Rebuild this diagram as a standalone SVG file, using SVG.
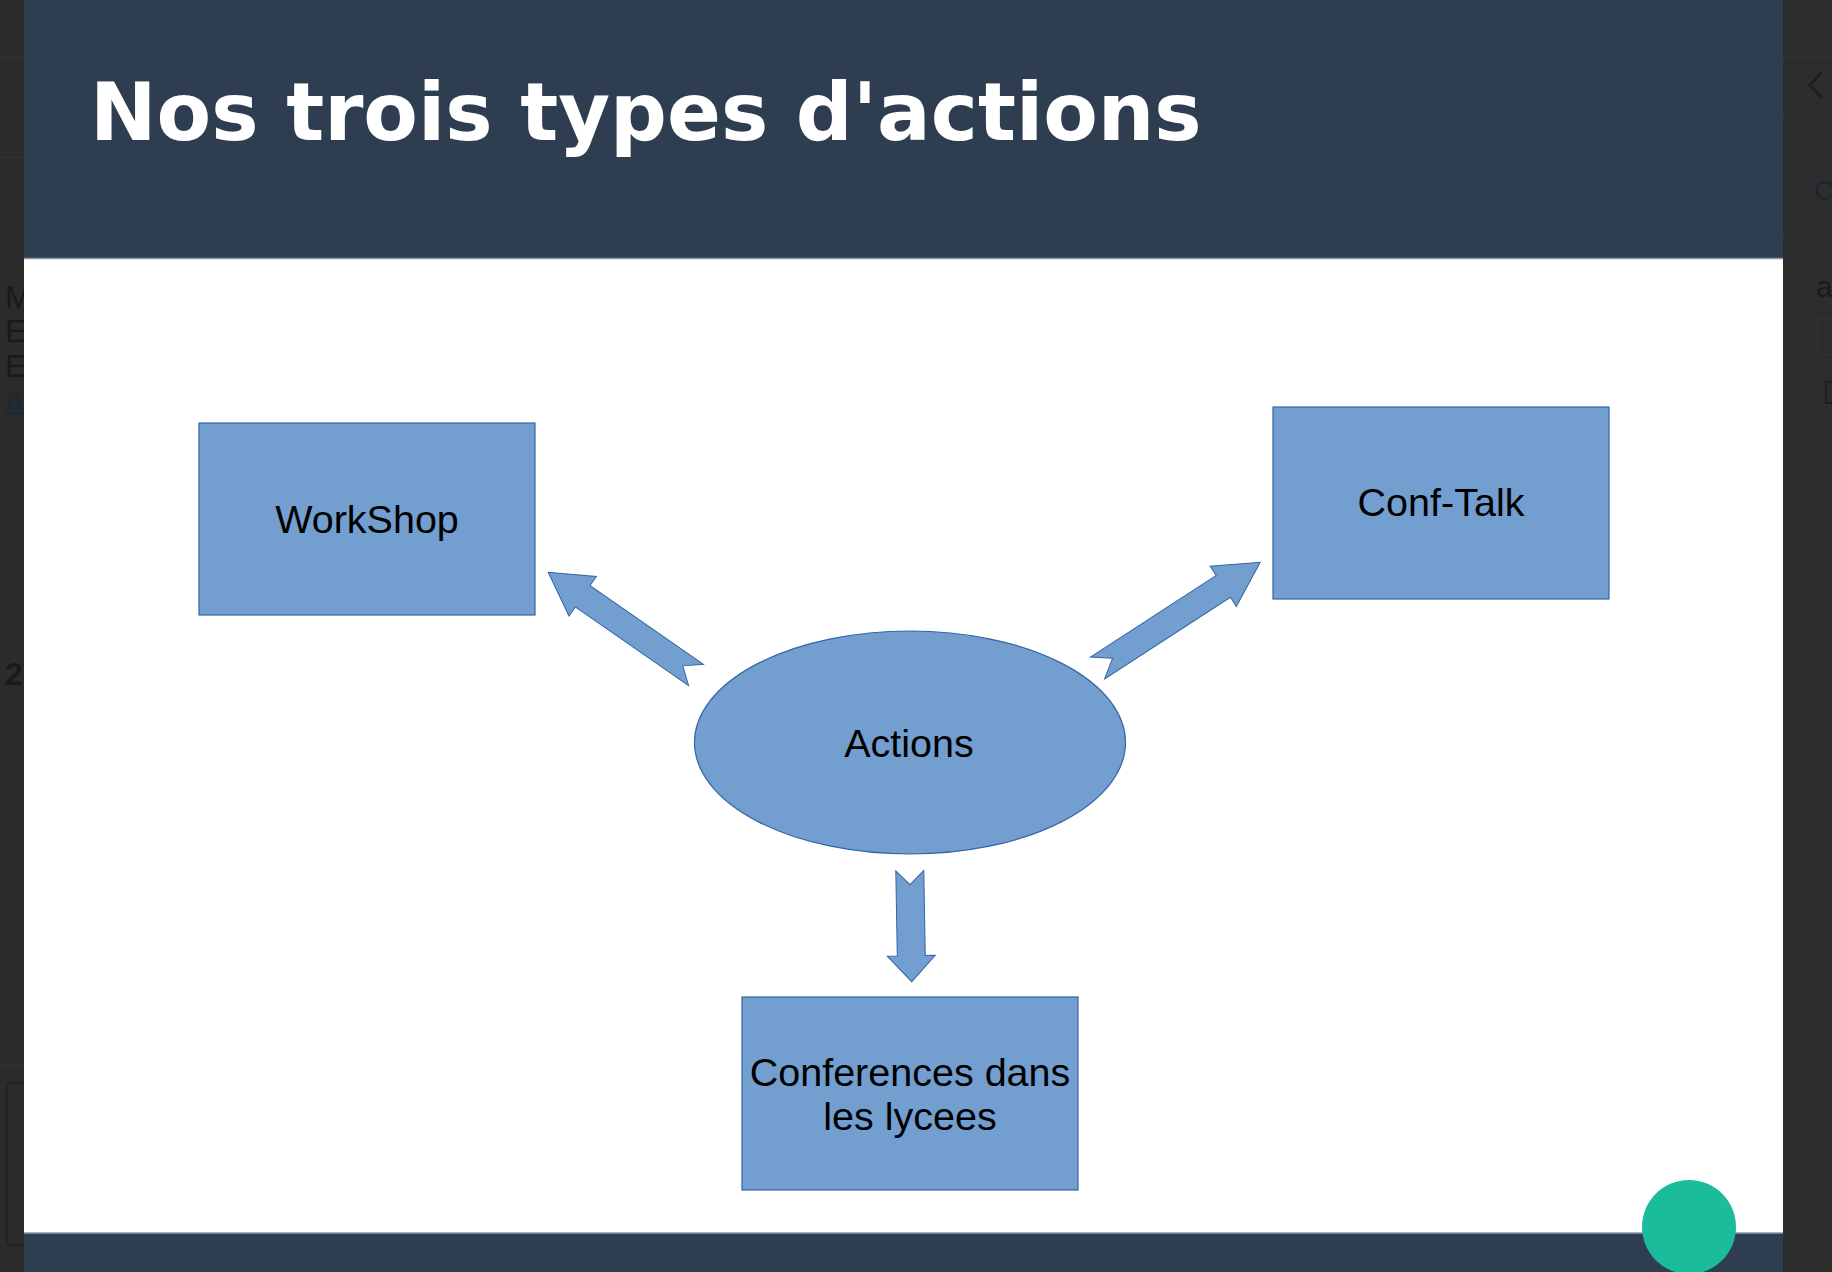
<svg xmlns="http://www.w3.org/2000/svg" width="1832" height="1272" viewBox="0 0 1832 1272">
  <style>
    .box { fill: #729fcf; stroke: #3465a4; stroke-width: 1.2; }
    .arrow { fill: #729fcf; stroke: #3465a4; stroke-width: 1; }
    .lbl { font-family: "Liberation Sans", Arial, sans-serif; font-size: 39.5px; fill: #000000; text-anchor: middle; }
    .side { font-family: "Liberation Sans", Arial, sans-serif; }
    .sline { stroke: #323232; stroke-width: 1.5; fill: none; }
  </style>
  <rect x="0" y="0" width="1832" height="1272" fill="#2b2b2b"/>
  <g id="left-sidebar">
    <line class="sline" x1="0" y1="57" x2="24" y2="57"/>
    <line class="sline" x1="0" y1="157" x2="24" y2="157"/>
    <text class="side" x="5" y="308" font-size="32" fill="#1a1a1a">M</text>
    <text class="side" x="5" y="342" font-size="32" fill="#1a1a1a">E</text>
    <text class="side" x="5" y="377" font-size="32" fill="#1a1a1a">E</text>
    <text class="side" x="5" y="410" font-size="32" fill="#1c2738" text-decoration="underline">a</text>
    <text class="side" x="5" y="685" font-size="32" font-weight="bold" fill="#1a1a1a">2</text>
    <line class="sline" x1="0" y1="1065" x2="24" y2="1065"/>
    <rect x="7" y="1083" width="40" height="162" rx="3" fill="none" stroke="#222222" stroke-width="1.5"/>
  </g>
  <g id="right-sidebar">
    <rect x="1783" y="0" width="49" height="1272" fill="#2d2d2d"/>
    <line class="sline" x1="1783" y1="57" x2="1832" y2="57"/>
    <line class="sline" x1="1783" y1="118" x2="1832" y2="118"/>
    <line class="sline" x1="1783" y1="235" x2="1832" y2="235"/>
    <line class="sline" x1="1783" y1="472" x2="1832" y2="472"/>
    <polyline points="1822,72 1810,85 1822,98" fill="none" stroke="#1f1f1f" stroke-width="3"/>
    <text class="side" x="1814" y="200" font-size="28" fill="#1b2536">C</text>
    <text class="side" x="1816" y="297" font-size="30" fill="#1a1a1a">a</text>
    <rect x="1818" y="318" width="20" height="37" fill="none" stroke="#333333" stroke-width="1.5"/>
    <rect x="1826" y="382" width="10" height="21" fill="none" stroke="#1e1e1e" stroke-width="2"/>
  </g>
  <g id="slide">
    <rect x="24" y="0" width="1759" height="1272" fill="#ffffff"/>
    <rect x="24" y="0" width="1759" height="258" fill="#2e3e50"/>
    <line x1="24" y1="258.5" x2="1783" y2="258.5" stroke="#8a98aa" stroke-width="1.5"/>
    <text x="90" y="140" font-family="'DejaVu Sans', 'Liberation Sans', sans-serif" font-weight="bold" font-size="79.5" fill="#ffffff">Nos trois types d'actions</text>
    <rect x="24" y="1233" width="1759" height="39" fill="#2e3e50"/>
    <line x1="24" y1="1233" x2="1783" y2="1233" stroke="#8a98aa" stroke-width="1.5"/>
    <circle cx="1689" cy="1227" r="47" fill="#1abc9c"/>
  </g>
  <g id="connectors">
    <polygon class="arrow" transform="translate(696,675) rotate(214.8)" points="0,-13 138,-13 138,-24 180,0 138,24 138,13 0,13 16,0"/>
    <polygon class="arrow" transform="translate(1097.5,668) rotate(-33)" points="0,-13 150,-13 150,-24 194,0 150,24 150,13 0,13 18,0"/>
    <polygon class="arrow" transform="translate(909.8,870.7) rotate(89)" points="0,-14 85,-14 85,-24 111,0 85,24 85,14 0,14 14,0"/>
  </g>
  <g id="node-workshop">
    <rect class="box" x="199" y="423" width="336" height="192"/>
    <text class="lbl" x="367" y="533">WorkShop</text>
  </g>
  <g id="node-conftalk">
    <rect class="box" x="1273" y="407" width="336" height="192"/>
    <text class="lbl" x="1441" y="516">Conf-Talk</text>
  </g>
  <g id="node-actions">
    <ellipse class="box" cx="910" cy="742.5" rx="215.5" ry="111.5"/>
    <text class="lbl" x="909" y="757">Actions</text>
  </g>
  <g id="node-conferences">
    <rect class="box" x="742" y="997" width="336" height="193"/>
    <text class="lbl" x="910" y="1086">Conferences dans</text>
    <text class="lbl" x="910" y="1130">les lycees</text>
  </g>
</svg>
